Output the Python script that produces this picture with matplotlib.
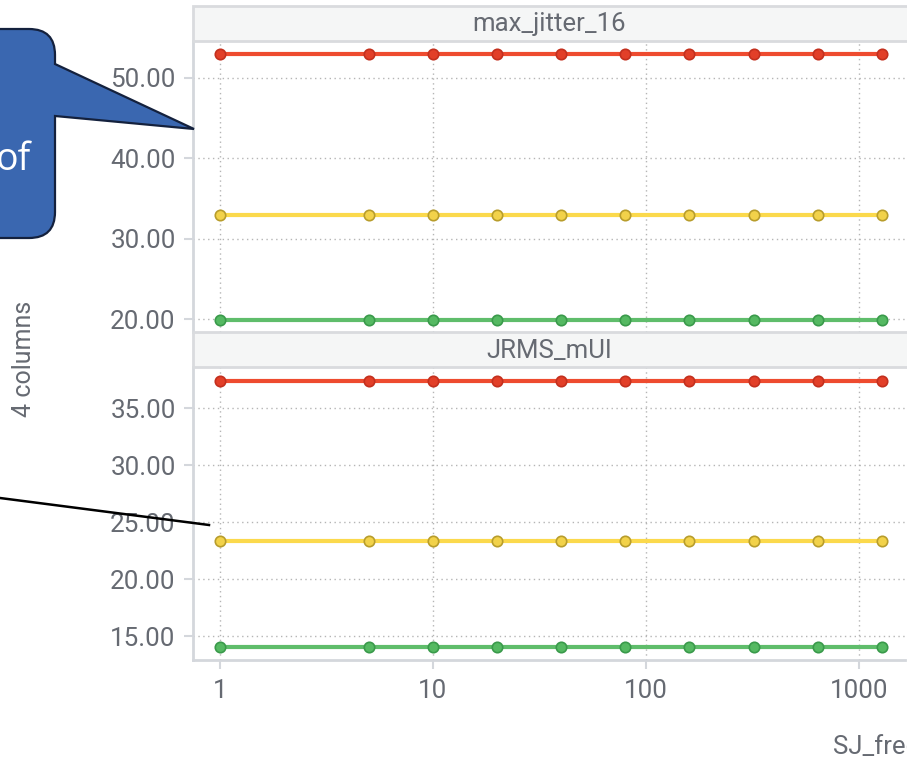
import matplotlib
matplotlib.use('Agg')
import matplotlib.pyplot as plt
from matplotlib.patches import Rectangle, PathPatch
from matplotlib.path import Path
from matplotlib.ticker import FixedLocator, NullLocator, FuncFormatter

plt.rcParams['font.family'] = ['Roboto', 'DejaVu Sans']

# data
sj_freq = [1, 5, 10, 20, 40, 80, 160, 320, 640, 1280]
max_jitter_red = [53.0, 53.0, 53.0, 53.0, 53.0, 53.0, 53.0, 53.0, 53.0, 53.0]
max_jitter_yellow = [32.9, 32.9, 32.9, 32.9, 32.9, 32.9, 32.9, 32.9, 32.9, 32.9]
max_jitter_green = [19.9, 19.9, 19.9, 19.9, 19.9, 19.9, 19.9, 19.9, 19.9, 19.9]
jrms_red = [37.4, 37.4, 37.4, 37.4, 37.4, 37.4, 37.4, 37.4, 37.4, 37.4]
jrms_yellow = [23.3, 23.3, 23.3, 23.3, 23.3, 23.3, 23.3, 23.3, 23.3, 23.3]
jrms_green = [14.0, 14.0, 14.0, 14.0, 14.0, 14.0, 14.0, 14.0, 14.0, 14.0]
panel_titles = ['max_jitter_16', 'JRMS_mUI']
top_ticks = [20, 30, 40, 50]
bottom_ticks = [15, 20, 25, 30, 35]
x_ticks = [1, 10, 100, 1000]

W, H = 907, 761
fig = plt.figure(figsize=(W / 100, H / 100), dpi=100)

def fx(px):
    return px / W

def fy(py):
    return 1 - py / H

# series styles: line colour, marker face, marker edge
styles = {
    'red': ('#ee4b2f', '#e23f28', '#c3301e'),
    'yellow': ('#fbd94c', '#f2d24a', '#b89d2c'),
    'green': ('#5fbd6b', '#55b962', '#3a9a4b'),
}

L, R = 193, 905
panels = [
    (40.7, 332, (18.4, 54.6), top_ticks,
     [('red', max_jitter_red), ('yellow', max_jitter_yellow), ('green', max_jitter_green)]),
    (367, 660, (12.9, 38.6), bottom_ticks,
     [('red', jrms_red), ('yellow', jrms_yellow), ('green', jrms_green)]),
]

tick_col = '#666a72'
spine_col = '#d4d7dc'
axes = []
for i, (top, bot, ylim, yt, series) in enumerate(panels):
    ax = fig.add_axes([fx(L), fy(bot), fx(R) - fx(L), fy(top) - fy(bot)])
    ax.set_xscale('log')
    ax.set_xlim(10 ** ((L - 220) / 213), 10 ** ((R - 220) / 213))
    ax.set_ylim(*ylim)
    for name, vals in series:
        lc, mf, me = styles[name]
        ax.plot(sj_freq, vals, color=lc, lw=3, marker='o', ms=7.5,
                mfc=mf, mec=me, mew=1.2, zorder=3, clip_on=False)
    ax.xaxis.set_major_locator(FixedLocator(x_ticks))
    ax.xaxis.set_minor_locator(NullLocator())
    ax.yaxis.set_major_locator(FixedLocator(yt))
    ax.yaxis.set_major_formatter(FuncFormatter(lambda v, p: '%.2f' % v))
    ax.grid(True, linestyle=(0, (1, 2.5)), color='#b5b5b5', lw=1)
    for s in ['top', 'right']:
        ax.spines[s].set_visible(False)
    ax.spines['left'].set_color(spine_col)
    ax.spines['left'].set_linewidth(2)
    ax.spines['bottom'].set_color(spine_col)
    ax.spines['bottom'].set_linewidth(2)
    ax.tick_params(axis='y', length=6.5, width=1.5, color=spine_col, pad=6,
                   labelsize=18.7, labelcolor=tick_col)
    if i == 0:
        ax.tick_params(axis='x', length=0, labelbottom=False)
        ax.spines['bottom'].set_visible(False)
    else:
        ax.tick_params(axis='x', length=6.5, width=1.5, color=spine_col, pad=7,
                       labelsize=18.7, labelcolor=tick_col)
        ax.xaxis.set_major_formatter(FuncFormatter(lambda v, p: '%d' % v))
    axes.append(ax)

# overlay in pixel coordinates for strips and annotations
ov = fig.add_axes([0, 0, 1, 1], zorder=10)
ov.set_xlim(0, W)
ov.set_ylim(H, 0)
ov.axis('off')
ov.patch.set_alpha(0)

strips = [(6, 40.7), (332, 367)]
for (t, b), title in zip(strips, panel_titles):
    ov.add_patch(Rectangle((L, t), R + 20 - L, b - t, facecolor='#f5f6f6',
                           edgecolor='#d9dbde', lw=2))
    ov.text((L + R) / 2, (t + b) / 2 + 1, title, ha='center', va='center',
            fontsize=18.5, color=tick_col)

ov.text(24, 359, '4 columns', rotation=90, ha='center', va='center',
        fontsize=18, color=tick_col)
ov.text(833, 747, 'SJ_freq', ha='left', va='center', fontsize=18.5, color=tick_col)

# callout shape (cut by the left edge)
r = 26
verts = [(-60, 29), (55 - r, 29), (55, 29), (55, 29 + r), (55, 64), (194, 129),
         (55, 116), (55, 238 - r), (55, 238), (55 - r, 238), (-60, 238), (-60, 29)]
codes = [Path.MOVETO, Path.LINETO, Path.CURVE3, Path.CURVE3, Path.LINETO, Path.LINETO,
         Path.LINETO, Path.LINETO, Path.CURVE3, Path.CURVE3, Path.LINETO, Path.CLOSEPOLY]
ov.add_patch(PathPatch(Path(verts, codes), facecolor='#3a67b0', edgecolor='#14213d',
                       lw=1.6, clip_on=False))
ov.text(-4, 160, 'of', ha='left', va='center', fontsize=27, color='white',
        family=['Open Sans', 'DejaVu Sans'])

ov.plot([0, 209], [498, 525], color='black', lw=1.8, clip_on=False)

fig.savefig('out.png', dpi=100)
